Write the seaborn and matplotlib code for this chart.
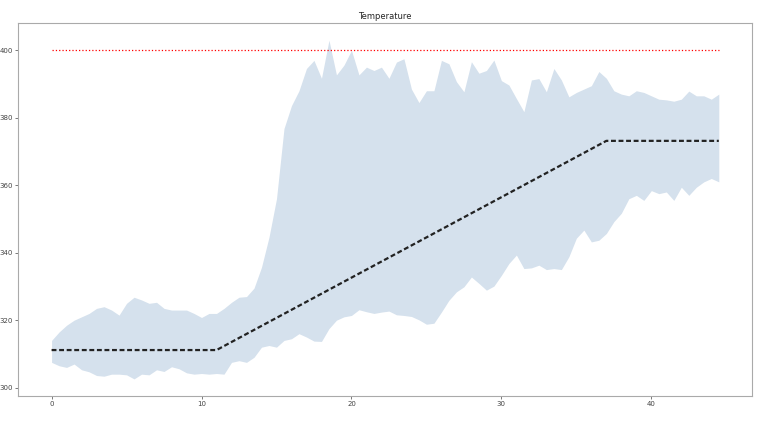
import numpy as np
import pandas as pd
import seaborn as sns
import matplotlib
matplotlib.use("Agg")
import matplotlib.pyplot as plt

# time axis (half steps) and band limits
time = np.arange(0, 45, 0.5)
upper = [314, 316.5, 318.5, 320, 321, 322, 323.5, 324, 323, 321.5,
         325, 326.8, 326, 325, 325.3, 323.5, 323, 323, 323, 322,
         320.8, 322, 322, 323.5, 325.3, 326.8, 327, 329.5, 335.7, 344.6,
         356, 376.8, 383.6, 388, 394.6, 397, 391.7, 403, 392.7, 395.6,
         400, 392.7, 395, 394, 395, 391.7, 396.5, 397.5, 388.5, 384.5,
         388, 388, 397, 396, 390.7, 387.7, 396.6, 393.2, 394, 397.1,
         391, 389.7, 385.7, 381.8, 391.2, 391.6, 387.7, 394.6, 391.2, 386.2,
         387.5, 388.5, 389.5, 393.7, 391.7, 388, 387, 386.5, 388, 387.5,
         386.5, 385.5, 385.3, 384.9, 385.5, 387.9, 386.5, 386.5, 385.5, 387]
lower = [307.5, 306.5, 306, 307, 305.3, 304.7, 303.6, 303.4, 304, 304,
         303.8, 302.6, 304, 303.8, 305.3, 304.8, 306.2, 305.6, 304.4, 304,
         304.2, 304, 304.2, 304, 307.5, 308, 307.5, 309, 312, 312.5,
         312, 314, 314.5, 316, 315, 313.8, 313.7, 317.5, 320, 321,
         321.4, 323.1, 322.5, 322, 322.4, 322.7, 321.6, 321.4, 321.1, 320.1,
         318.8, 319.1, 322.4, 325.9, 328.4, 329.9, 332.8, 330.9, 328.9, 330.1,
         333.3, 336.8, 339.3, 335.3, 335.5, 336.3, 335, 335.3, 335, 338.8,
         344.3, 346.7, 343.2, 343.7, 345.7, 349.2, 351.7, 356, 357, 355.5,
         358.4, 357.5, 358, 355.5, 359.4, 357, 359.4, 361, 362, 361]

# setpoint profile (K) and upper limit
setpoint_t = [0, 11, 37, 44.5]
setpoint_T = [311.15, 311.15, 373.15, 373.15]
limit_t = [0, 44.5]
limit_T = [400, 400]

sns.set_style("ticks")
fig, ax = plt.subplots(figsize=(7.59, 4.22), dpi=100)
fig.subplots_adjust(left=0.024, right=0.991, top=0.945, bottom=0.062)

ax.fill_between(time, lower, upper, color="#d5e1ed", linewidth=0)
sns.lineplot(x=setpoint_t, y=setpoint_T, ax=ax, color="#222222",
             linestyle=(0, (2.2, 1.2)), linewidth=1.6)
sns.lineplot(x=limit_t, y=limit_T, ax=ax, color="red",
             linestyle=":", linewidth=0.9)

ax.set_xticks([0, 10, 20, 30, 40])
ax.set_yticks([300, 320, 340, 360, 380, 400])
ax.tick_params(labelsize=5, length=2, width=0.5, pad=2, colors="#444444")
for s in ax.spines.values():
    s.set_color("#aaaaaa")
    s.set_linewidth(0.8)
ax.set_title("Temperature", fontsize=6, pad=3)

plt.savefig("out.png")
plt.close()
